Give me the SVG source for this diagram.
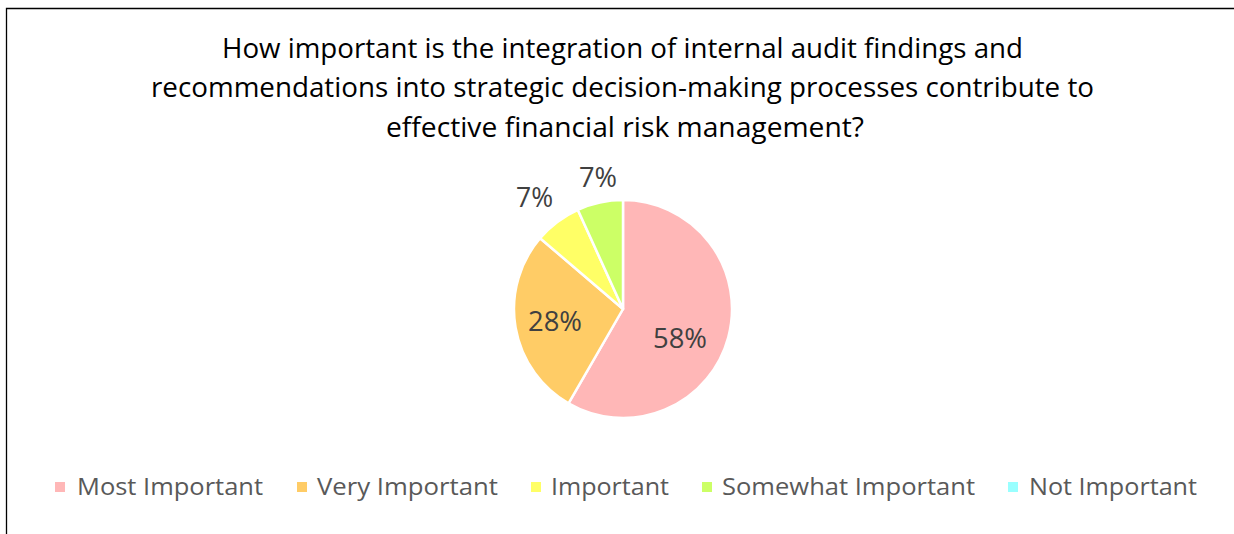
<svg xmlns="http://www.w3.org/2000/svg" width="1234" height="534" viewBox="0 0 1234 534">
<style>
.t{font-family:"Open Sans","Liberation Sans",sans-serif;font-size:26.6px;fill:#000;}
.lbl{font-family:"Open Sans","Liberation Sans",sans-serif;font-size:28px;fill:#404040;}
.lg{font-family:"Open Sans","Liberation Sans",sans-serif;font-size:23.4px;fill:#595959;}
.sl{stroke:#fff;stroke-width:2.5;stroke-linejoin:round;}
</style>
<rect width="1234" height="534" fill="#fff"/>
<path d="M6.5,534 V8.5 H1234" fill="none" stroke="#000" stroke-width="1.3"/>
<g id="title">
<text class="t" x="222" y="58" textLength="801" lengthAdjust="spacingAndGlyphs">How important is the integration of internal audit findings and</text>
<text class="t" x="151" y="97" textLength="943" lengthAdjust="spacingAndGlyphs">recommendations into strategic decision-making processes contribute to</text>
<text class="t" x="386" y="136.5" textLength="478" lengthAdjust="spacingAndGlyphs">effective financial risk management?</text>
</g>
<g id="pie">
<g id="slice-most"><path class="sl" fill="#FFB7B7" d="M623,309 L623,200 A109,109 0 1 1 568.5,403.4 Z"/></g>
<g id="slice-very"><path class="sl" fill="#FFCC66" d="M623,309 L568.5,403.4 A109,109 0 0 1 540.1,238.2 Z"/></g>
<g id="slice-important"><path class="sl" fill="#FFFF66" d="M623,309 L540.1,238.2 A109,109 0 0 1 577.8,209.8 Z"/></g>
<g id="slice-somewhat"><path class="sl" fill="#CCFF66" d="M623,309 L577.8,209.8 A109,109 0 0 1 623,200 Z"/></g>
</g>
<g id="labels">
<text class="lbl" x="653" y="348" textLength="54" lengthAdjust="spacingAndGlyphs">58%</text>
<text class="lbl" x="528" y="330.5" textLength="54" lengthAdjust="spacingAndGlyphs">28%</text>
<text class="lbl" x="516" y="206.5" textLength="37" lengthAdjust="spacingAndGlyphs">7%</text>
<text class="lbl" x="579" y="186.5" textLength="38" lengthAdjust="spacingAndGlyphs">7%</text>
</g>
<g id="legend">
<g id="legend-most"><rect x="55" y="482" width="10" height="10" fill="#FFB7B7"/><text class="lg" x="77" y="494.5" textLength="186" lengthAdjust="spacingAndGlyphs">Most Important</text></g>
<g id="legend-very"><rect x="297" y="482" width="10" height="10" fill="#FFCC66"/><text class="lg" x="317" y="494.5" textLength="181" lengthAdjust="spacingAndGlyphs">Very Important</text></g>
<g id="legend-important"><rect x="531" y="482" width="10" height="10" fill="#FFFF66"/><text class="lg" x="551" y="494.5" textLength="118" lengthAdjust="spacingAndGlyphs">Important</text></g>
<g id="legend-somewhat"><rect x="702" y="482" width="10" height="10" fill="#CCFF66"/><text class="lg" x="722" y="494.5" textLength="253" lengthAdjust="spacingAndGlyphs">Somewhat Important</text></g>
<g id="legend-not"><rect x="1008" y="482" width="10" height="10" fill="#99FFFF"/><text class="lg" x="1029" y="494.5" textLength="168" lengthAdjust="spacingAndGlyphs">Not Important</text></g>
</g>
</svg>
